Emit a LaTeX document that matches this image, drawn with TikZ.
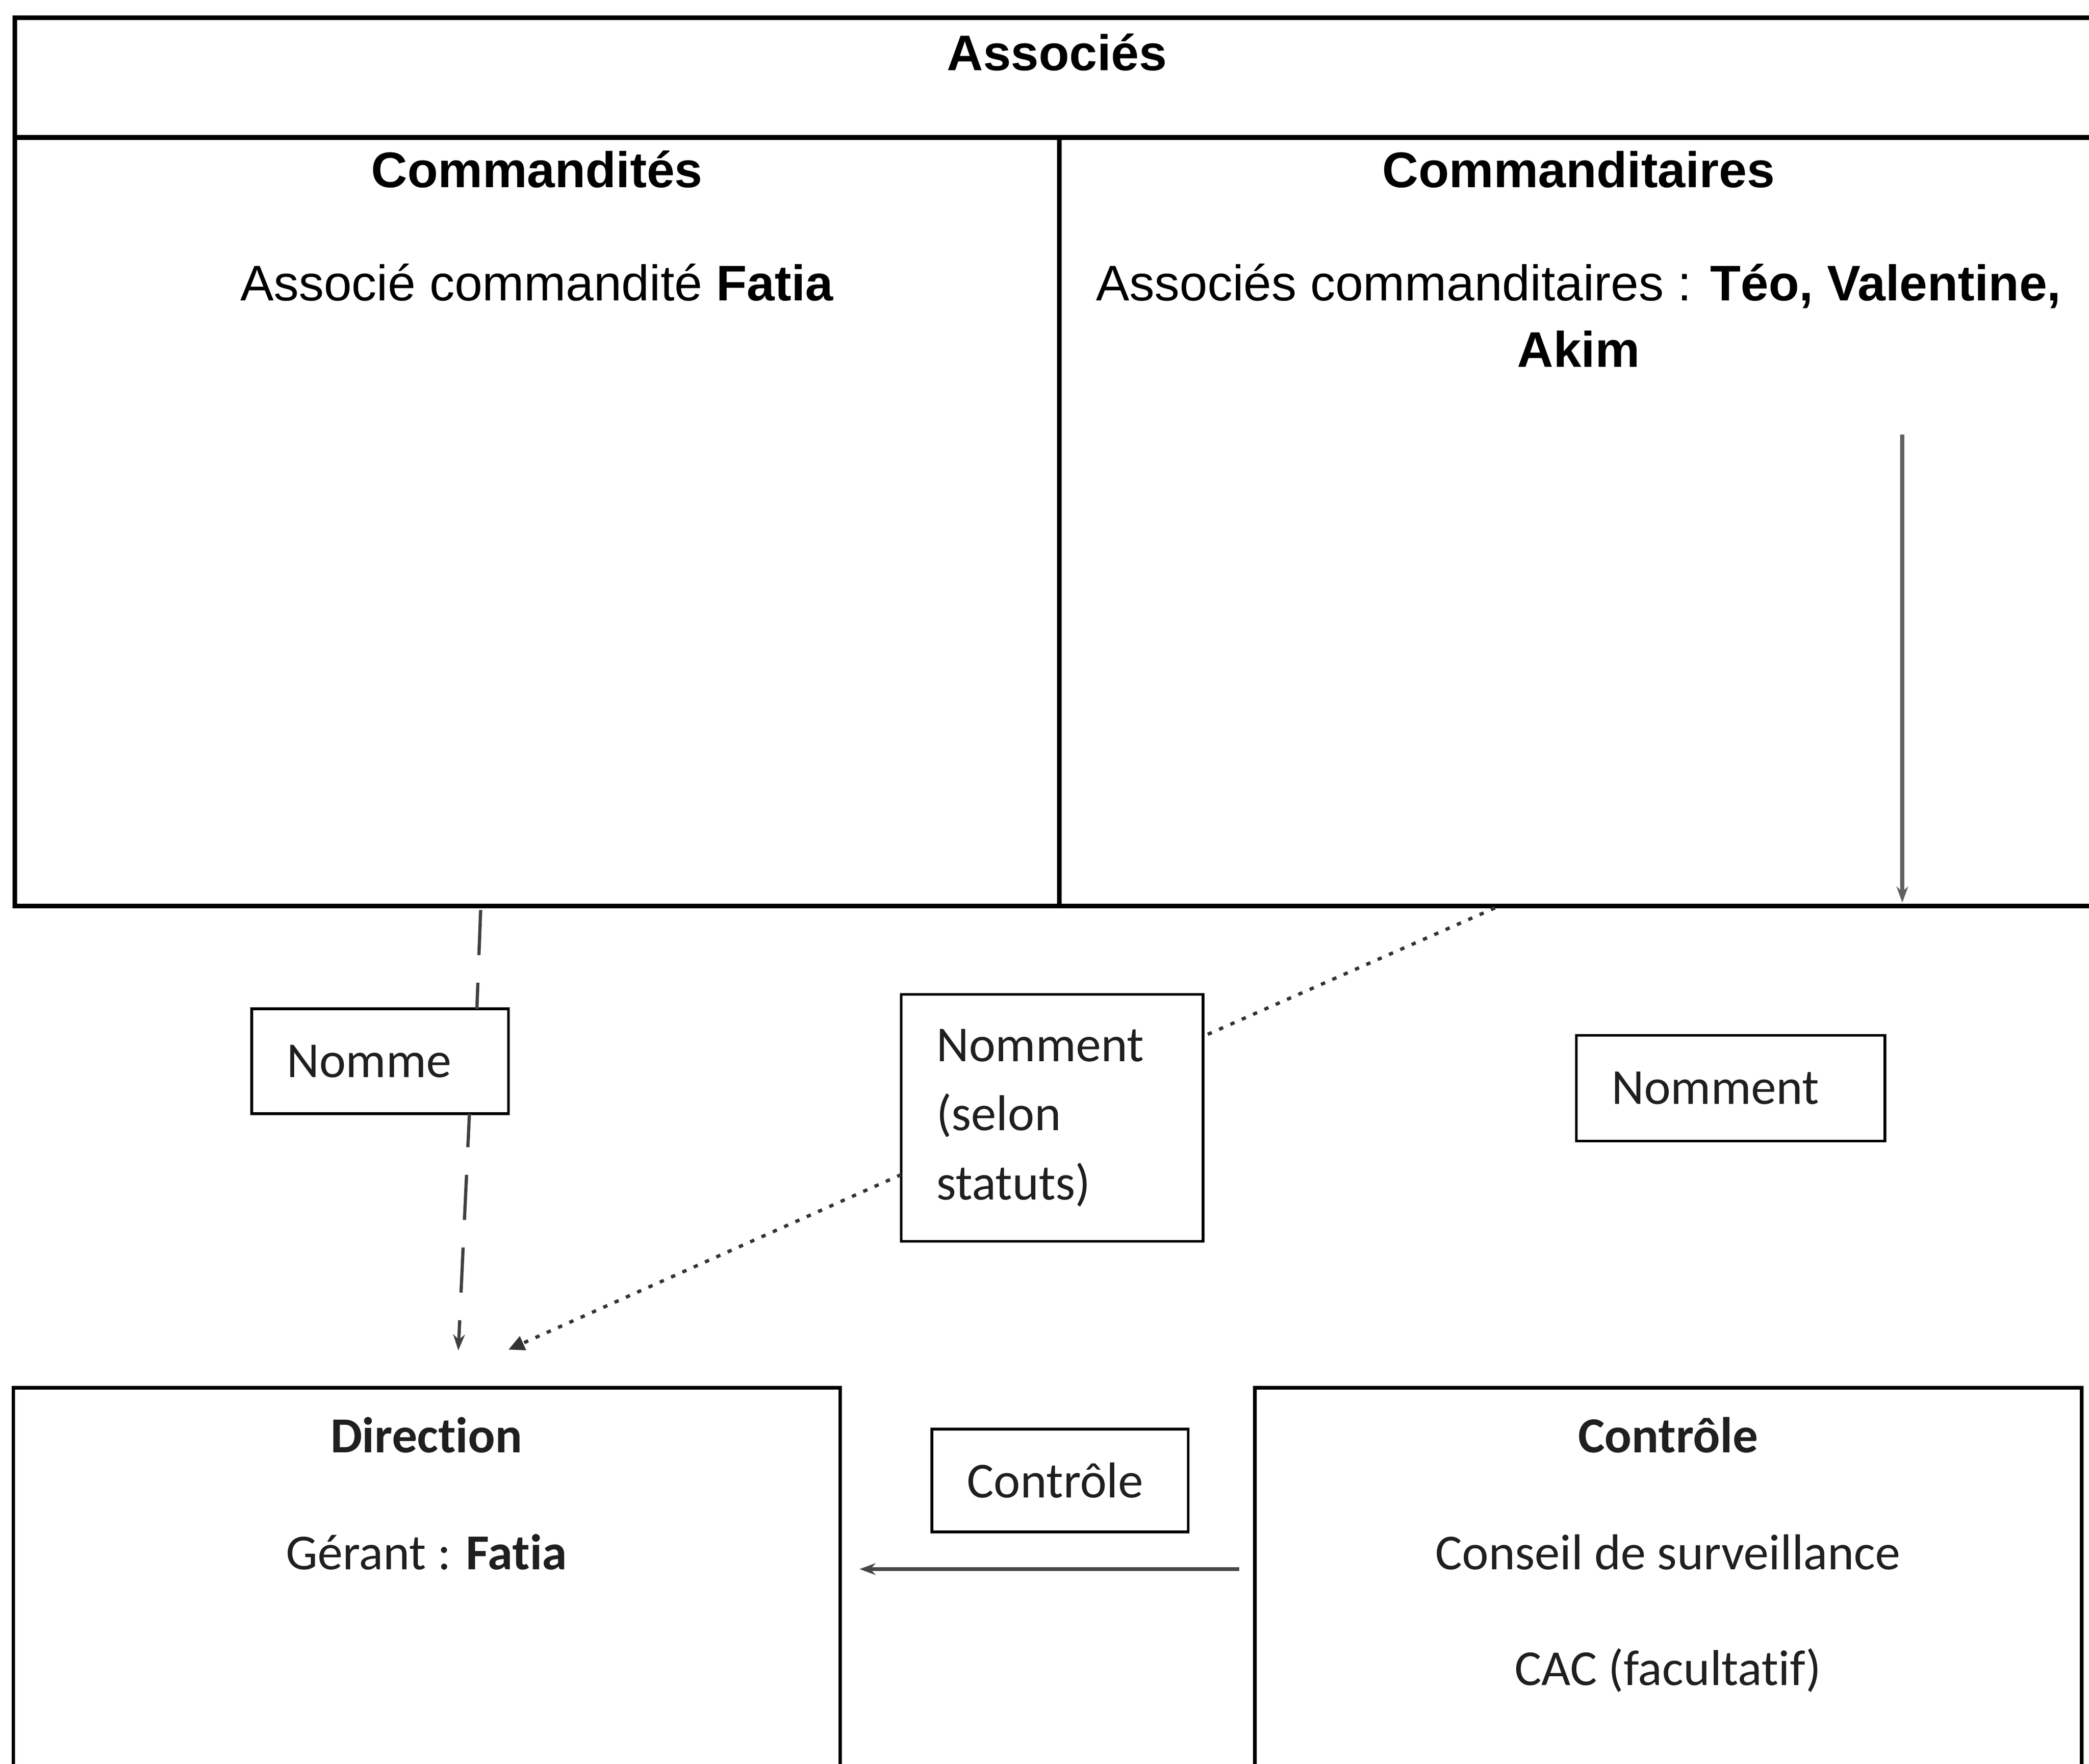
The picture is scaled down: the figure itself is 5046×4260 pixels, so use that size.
\documentclass[tikz,border=0pt]{standalone}
\usepackage{fontspec}
\setmainfont{Liberation Sans}
\newfontfamily\calfont[Ligatures=NoCommon]{Carlito}
\usetikzlibrary{arrows.meta,calc}
\begin{document}
\begin{tikzpicture}[x=0.01cm,y=-0.01cm,
  bigframe/.style={draw=black,line width=3.2pt,inner sep=0pt,outer sep=0pt,anchor=north west},
  lowframe/.style={draw=black,line width=2.4pt,inner sep=0pt,outer sep=0pt,anchor=north west},
  smallbox/.style={draw=black,line width=1.9pt,anchor=center,inner xsep=0.85cm,inner ysep=0pt,outer sep=0pt,align=left,
    font=\calfont\fontsize{34.6pt}{47.5pt}\selectfont,text=black!88},
  toptext/.style={font=\fontsize{34.4pt}{45pt}\selectfont,anchor=base,inner sep=0pt},
  bottext/.style={font=\calfont\fontsize{34.6pt}{45pt}\selectfont,anchor=base,inner sep=0pt,text=black!88},
  dashline/.style={draw=black!75,line width=2.2pt,dash pattern=on 31pt off 19pt},
  dotline/.style={draw=black!80,line width=2.3pt,dash pattern=on 3pt off 5.5pt},
  grayarrow/.style={draw=black!62,line width=2.7pt},
  smalltip/.style={-{Stealth[length=11pt,width=8pt]}},
  filltip/.style={-{Triangle[length=11pt,width=10pt]}}
]
\useasboundingbox (0,0) rectangle (5046,4260);
\clip (0,0) rectangle (5046,4260);

% top table
\node[bigframe,minimum width=51.00cm,minimum height=21.44cm] (assoc) at (36,43) {};
\coordinate (hdL) at (36,332);
\coordinate (hdR) at (5200,332);
\draw[line width=3.2pt] (hdL) -- (hdR);
\coordinate (divT) at (2559,332);
\coordinate (divB) at (2559,2187);
\draw[line width=3.2pt] (divT) -- (divB);

\node[toptext] (tAssoc) at (2553,170) {\textbf{Associés}};
\node[toptext] (tCdes) at (1297,453) {\textbf{Commandités}};
\node[toptext] (tCres) at (3813,453) {\textbf{Commanditaires}};
\node[toptext] (tFatia) at (1297,726) {Associé commandité \textbf{Fatia}};
\node[toptext] (tTeo) at (3813,726) {Associés commanditaires : \textbf{Téo, Valentine,}};
\node[toptext] (tAkim) at (3813,887) {\textbf{Akim}};

% middle boxes
\node[smallbox,text width=4.50cm,minimum height=2.53cm] (nomme) at (918,2563.5) {Nomme};
\node[smallbox,text width=5.59cm,minimum height=5.96cm] (nomsel) at (2541.5,2700) {Nomment\\(selon\\statuts)};
\node[smallbox,text width=5.75cm,minimum height=2.55cm] (nomr) at (4180.5,2628.5) {Nomment};

% bottom boxes
\node[lowframe,minimum width=19.96cm,minimum height=12cm] (direc) at (32,3352) {};
\node[lowframe,minimum width=19.96cm,minimum height=12cm] (ctrl) at (3031,3352) {};
\node[smallbox,text width=4.49cm,minimum height=2.48cm] (ctrlbox) at (2560.5,3576) {Contrôle};

\node[bottext] (tDir) at (1030,3508) {\textbf{Direction}};
\node[bottext] (tGer) at (1030,3791) {Gérant : \textbf{Fatia}};
\node[bottext] (tCtl) at (4029,3508) {\textbf{Contrôle}};
\node[bottext] (tCons) at (4029,3791) {Conseil de surveillance};
\node[bottext] (tCac) at (4029,4071) {CAC (facultatif)};

% connectors
\coordinate (a1) at (1161,2198);
\coordinate (a2) at ($(nomme.north west)!0.877!(nomme.north east)$);
\draw[dashline] (a1) -- (a2);
\coordinate (a3) at ($(nomme.south west)!0.848!(nomme.south east)$);
\coordinate (a4) at (1107,3262);
\draw[dashline,smalltip,dash phase=8pt] (a3) -- (a4);

\coordinate (b1) at (3611,2193);
\coordinate (b2) at ($(nomsel.north east)!0.17!(nomsel.south east)$);
\draw[dotline] (b1) -- (b2);
\coordinate (b3) at ($(nomsel.north west)!0.73!(nomsel.south west)$);
\coordinate (b4) at (1228,3260);
\draw[dotline,filltip] (b3) -- (b4);

\coordinate (v1) at (4595,1050);
\coordinate (v2) at (4595,2180);
\draw[grayarrow,smalltip] (v1) -- (v2);

\coordinate (h1) at ($(ctrl.north west)+(-38,438)$);
\coordinate (h2) at ($(direc.north east)+(47,438)$);
\draw[grayarrow,draw=black!72,smalltip] (h1) -- (h2);
\end{tikzpicture}
\end{document}
